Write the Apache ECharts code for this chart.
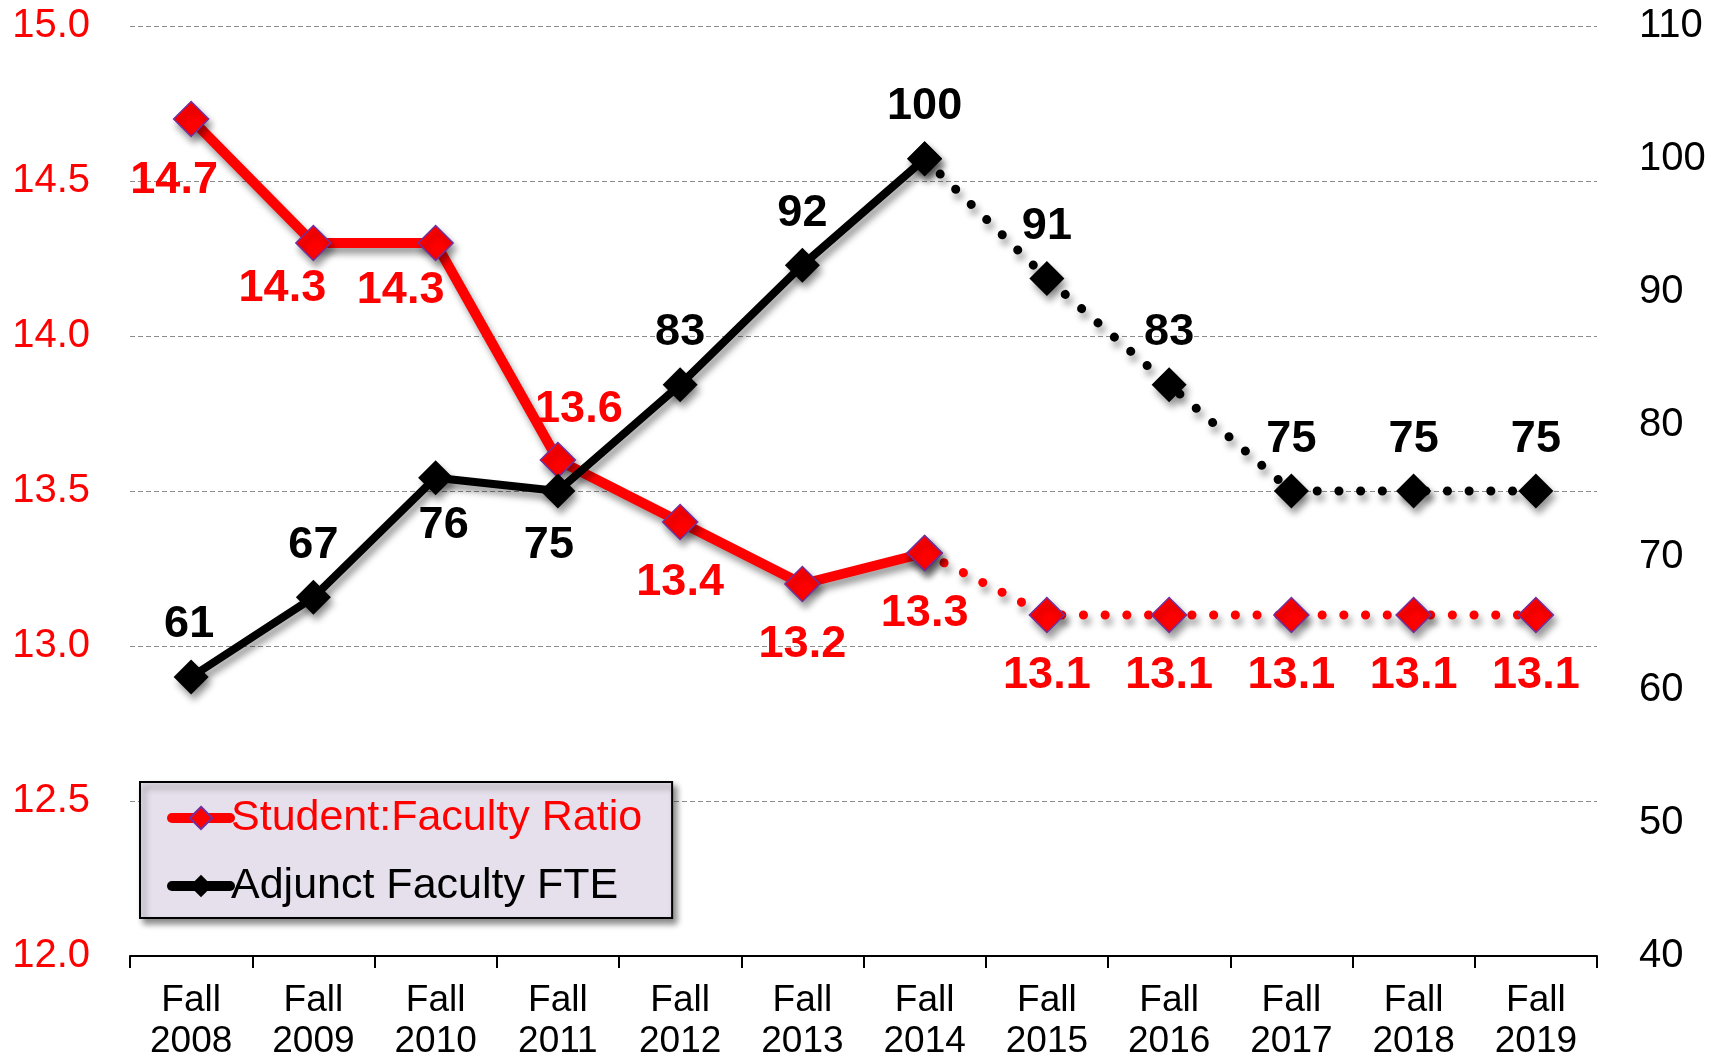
<!DOCTYPE html>
<html>
<head>
<meta charset="utf-8">
<script src="https://cdn.jsdelivr.net/npm/echarts@6/dist/echarts.min.js"></script>
<style>
html,body{margin:0;padding:0;background:#fff;}
#chart{width:1725px;height:1060px;}
</style>
</head>
<body>
<div id="chart"></div>
<script>
// ---- data ----
const categories = ['Fall\n2008','Fall\n2009','Fall\n2010','Fall\n2011','Fall\n2012','Fall\n2013','Fall\n2014','Fall\n2015','Fall\n2016','Fall\n2017','Fall\n2018','Fall\n2019'];
const ratioValues = [14.7, 14.3, 14.3, 13.6, 13.4, 13.2, 13.3, 13.1, 13.1, 13.1, 13.1, 13.1];
const adjunctValues = [61, 67, 76, 75, 83, 92, 100, 91, 83, 75, 75, 75];
const ratioName = 'Student:Faculty Ratio';
const adjunctName = 'Adjunct Faculty FTE';
const lastActualIndex = 6; // after Fall 2014 values are projected (dotted)
const leftAxis = {min: 12, max: 15, interval: 0.5};
const rightAxis = {min: 40, max: 110, interval: 10};

// ---- label placement (style only) ----
const ratioLabelOffsets = [[-17,62],[-31,46],[-35,48],[21,-50],[0,61],[0,61],[0,61],[0,61],[0,61],[0,61],[0,61],[0,61]];
const adjunctLabelOffsets = [[-2,-52],[0,-52],[8,48],[-9,55],[0,-52],[0,-52],[0,-52],[0,-52],[0,-52],[0,-51],[0,-51],[0,-51]];

const FONT = '"Liberation Sans", Arial, sans-serif';
const RED = '#FF0000';

function buildData(values, offsets, solid) {
  return values.map((v, i) => {
    const inPart = solid ? i <= lastActualIndex : i >= lastActualIndex;
    if (!inPart) return null;
    const showLabel = solid ? true : i > lastActualIndex;
    return {value: v, label: {show: showLabel, offset: offsets[i]}};
  });
}

const shadow = {shadowColor: 'rgba(0,0,0,0.4)', shadowBlur: 7, shadowOffsetX: 3, shadowOffsetY: 6};

function makeSeries(name, values, offsets, color, yIdx, solid, lineWidth, border) {
  return {
    name: name,
    type: 'line',
    yAxisIndex: yIdx,
    data: buildData(values, offsets, solid),
    symbol: 'diamond',
    symbolSize: 35,
    showSymbol: true,
    connectNulls: false,
    z: yIdx === 1 ? 3 : 2,
    lineStyle: Object.assign({
      color: color,
      width: solid ? lineWidth : 9,
      type: solid ? 'solid' : [0.1, 21.6],
      cap: 'round',
      join: 'round'
    }, shadow),
    itemStyle: Object.assign({
      color: color,
      borderColor: border,
      borderWidth: border === color ? 0 : 1.5,
      opacity: 1
    }, shadow),
    label: {
      show: true,
      position: 'inside',
      color: color,
      fontFamily: FONT,
      fontWeight: 'bold',
      fontSize: 45,
      formatter: (p) => yIdx === 0 ? Number(p.value).toFixed(1) : String(p.value)
    },
    emphasis: {disabled: true},
    animation: false
  };
}

const chart = echarts.init(document.getElementById('chart'), null, {renderer: 'canvas'});
chart.setOption({
  backgroundColor: '#fff',
  animation: false,
  grid: {left: 130, right: 128, top: 26, bottom: 104, containLabel: false, outerBoundsMode: 'none'},
  legend: {
    orient: 'vertical',
    left: 140,
    top: 782,
    data: [
      {name: ratioName, textStyle: {color: RED}},
      {name: adjunctName, textStyle: {color: '#000'}}
    ],
    itemWidth: 58,
    itemHeight: 28,
    itemGap: 22,
    padding: [13, 30, 9, 27],
    backgroundColor: '#E6E0EC',
    borderColor: '#000',
    borderWidth: 2,
    shadowColor: 'rgba(0,0,0,0.45)',
    shadowBlur: 6,
    shadowOffsetX: 4,
    shadowOffsetY: 5,
    lineStyle: {width: 10, cap: 'round', shadowBlur: 0, shadowOffsetX: 0, shadowOffsetY: 0},
    itemStyle: {shadowBlur: 0, shadowOffsetX: 0, shadowOffsetY: 0},
    textStyle: {fontFamily: FONT, fontSize: 43, lineHeight: 46, padding: [0,0,0,-4]}
  },
  xAxis: {
    type: 'category',
    data: categories,
    boundaryGap: true,
    axisLine: {show: true, lineStyle: {color: '#000', width: 2}},
    axisTick: {show: true, length: 12, lineStyle: {color: '#000', width: 2}, alignWithLabel: false},
    axisLabel: {fontFamily: FONT, fontSize: 37, lineHeight: 41, color: '#000', margin: 24, interval: 0},
    splitLine: {show: false}
  },
  yAxis: [
    {
      type: 'value',
      min: leftAxis.min, max: leftAxis.max, interval: leftAxis.interval,
      axisLine: {show: false}, axisTick: {show: false},
      axisLabel: {fontFamily: FONT, fontSize: 40, color: RED, margin: 40, formatter: (v) => v.toFixed(1)},
      splitLine: {show: true, lineStyle: {color: '#8c8c8c', width: 1.2, type: [5, 3]}}
    },
    {
      type: 'value',
      min: rightAxis.min, max: rightAxis.max, interval: rightAxis.interval,
      axisLine: {show: false}, axisTick: {show: false},
      axisLabel: {fontFamily: FONT, fontSize: 40, color: '#000', margin: 42},
      splitLine: {show: false}
    }
  ],
  series: [
    makeSeries(ratioName, ratioValues, ratioLabelOffsets, RED, 0, true, 10, '#7030A0'),
    makeSeries(ratioName + ' (projected)', ratioValues, ratioLabelOffsets, RED, 0, false, 10, '#7030A0'),
    makeSeries(adjunctName, adjunctValues, adjunctLabelOffsets, '#000', 1, true, 8, '#000'),
    makeSeries(adjunctName + ' (projected)', adjunctValues, adjunctLabelOffsets, '#000', 1, false, 8, '#000')
  ]
});
</script>
</body>
</html>
